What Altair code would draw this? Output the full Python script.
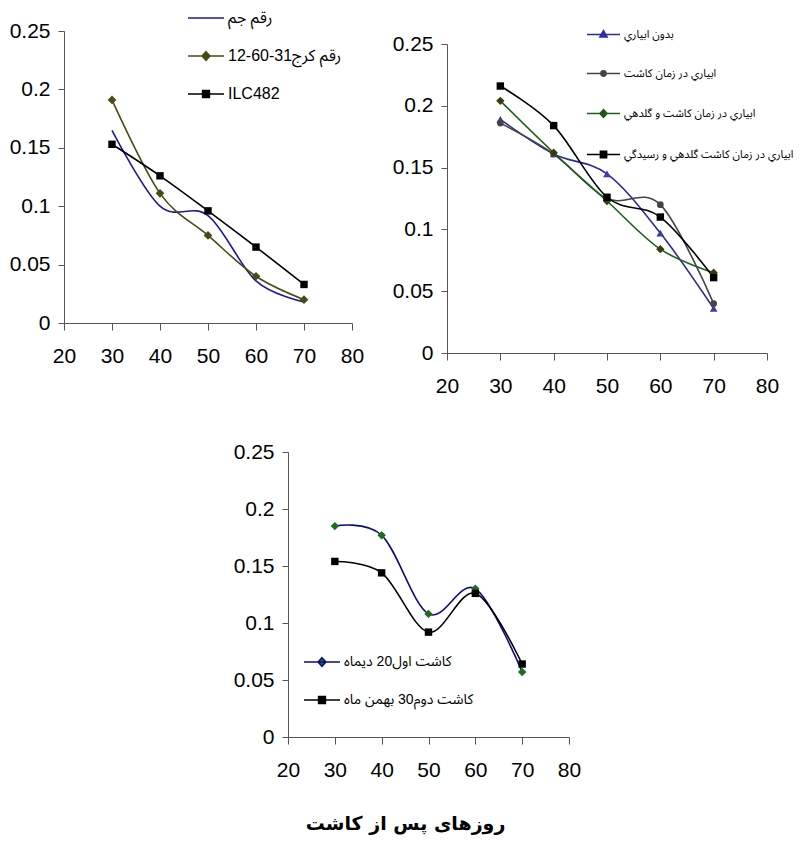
import json
import altair as alt
import pandas as pd

# ---------------- data ----------------
days = [30, 40, 50, 60, 70]
x_ticks = [20, 30, 40, 50, 60, 70, 80]
y_ticks = [0, 0.05, 0.1, 0.15, 0.2, 0.25]

# panel 1 (cultivars)
p1_series = ["رقم جم", "12-60-31رقم كرج", "ILC482"]
p1_jam = [0.165, 0.100, 0.092, 0.036, 0.018]
p1_karaj = [0.191, 0.111, 0.075, 0.040, 0.020]
p1_ilc = [0.153, 0.126, 0.096, 0.065, 0.033]

# panel 2 (irrigation)
p2_series = ["بدون ابياري", "ابياري در زمان كاشت",
             "ابياري در زمان كاشت و گلدهي",
             "ابياري در زمان كاشت گلدهي و رسيدگي"]
p2_none = [0.189, 0.161, 0.145, 0.097, 0.036]
p2_sow = [0.186, 0.161, 0.125, 0.120, 0.040]
p2_sow_flower = [0.204, 0.162, 0.123, 0.084, 0.065]
p2_all = [0.216, 0.184, 0.126, 0.110, 0.061]

# panel 3 (sowing dates)
p3_series = ["كاشت اول20 ديماه", "كاشت دوم30 بهمن ماه"]
p3_first = [0.185, 0.177, 0.108, 0.130, 0.057]
p3_second = [0.154, 0.144, 0.092, 0.126, 0.064]

x_title = "روزهای پس از کاشت"

# ---------------- style ----------------
W, H = 789, 831
AX = "#555555"
NUM_FONT = "Liberation Sans Narrow, Arial Narrow, Liberation Sans, Arial, sans-serif"
AR_FONT = "Noto Sans Arabic, DejaVu Sans Condensed, DejaVu Sans, sans-serif"
TITLE_FONT = "DejaVu Sans, sans-serif"

LINE = "M-1,0L1,0"
DIAM = "M-1,0L1,0M0,-0.24L0.22,0L0,0.24L-0.22,0Z"
SQR = "M-1,0L1,0M-0.19,-0.19L0.19,-0.19L0.19,0.19L-0.19,0.19Z"
TRI = "M-1,0L1,0M0,-0.24L0.22,0.15L-0.22,0.15Z"
CIRC = "M-1,0L1,0M-0.16,0A0.16,0.16,0,1,1,0.16,0A0.16,0.16,0,1,1,-0.16,0Z"


def pick(series, items):
    expr = json.dumps(items[-1], ensure_ascii=False)
    for s, it in reversed(list(zip(series[:-1], items[:-1]))):
        expr = "(datum.value === %s ? %s : %s)" % (
            json.dumps(s, ensure_ascii=False), json.dumps(it, ensure_ascii=False), expr)
    return expr


def make_panel(series, values, line_colors, markers, legend_syms, legend_fills,
               xr, yr, lx, ly, lrow, lfont_size, lsym=1296, title=None):
    rows = []
    for s, vals in zip(series, values):
        for d, v in zip(days, vals):
            rows.append({"day": d, "value": v, "series": s})
    df = pd.DataFrame(rows)

    axis_x_kw = dict(
        values=x_ticks, orient="bottom", offset=yr[0] - H, grid=False,
        domainColor=AX, tickColor=AX, tickSize=7, domainWidth=1, tickWidth=1,
        labelFont=NUM_FONT, labelFontSize=21, labelColor="black",
        labelPadding=15, labelFlush=False, labelOverlap=False,
    )
    if title is not None:
        axis_x_kw.update(dict(
            titleFont=TITLE_FONT, titleFontSize=19, titleFontWeight="bold",
            titleColor="black", titleX=397, titleY=86,
            titleAlign="center", titleBaseline="middle",
        ))
    x = alt.X("day:Q",
              scale=alt.Scale(domain=[20, 80], range=xr, nice=False, zero=False),
              axis=alt.Axis(**axis_x_kw), title=title)
    y = alt.Y("value:Q",
              scale=alt.Scale(domain=[0, 0.25], range=yr, nice=False, zero=False),
              axis=alt.Axis(values=y_ticks, orient="left", offset=-xr[0],
                            format="~g", grid=False, domainColor=AX, tickColor=AX,
                            tickSize=6, domainWidth=1, tickWidth=1,
                            labelFont=NUM_FONT, labelFontSize=21,
                            labelColor="black", labelPadding=8,
                            labelFlush=False, labelOverlap=False),
              title=None)

    legend = alt.Legend(
        orient="none", legendX=lx, legendY=ly, title=None, direction="vertical",
        symbolSize=lsym, symbolStrokeWidth=1.5,
        symbolType=alt.ExprRef(expr=pick(series, legend_syms)),
        symbolFillColor=alt.ExprRef(expr=pick(series, legend_fills)),
        symbolStrokeColor=alt.ExprRef(expr=pick(series, line_colors)),
        symbolOpacity=1,
        labelFont=NUM_FONT + ", " + AR_FONT,
        labelFontSize=lfont_size, labelColor="black", labelOffset=3,
        rowPadding=lrow, labelLimit=400,
    )

    layers = [alt.Chart(df).mark_line(interpolate="cardinal", strokeWidth=1.6).encode(
        x=x, y=y,
        color=alt.Color("series:N", scale=alt.Scale(domain=series, range=line_colors),
                        legend=legend),
    )]
    for s, mk in zip(series, markers):
        if mk is None:
            continue
        shape, fill, size = mk
        layers.append(
            alt.Chart(df).transform_filter(alt.datum.series == s)
            .mark_point(filled=True, opacity=1, shape=shape, fill=fill,
                        size=size, strokeWidth=0)
            .encode(x=x, y=y)
        )
    return alt.layer(*layers)


p1 = make_panel(
    p1_series, [p1_jam, p1_karaj, p1_ilc],
    ["#1a1a9a", "#4a4a14", "#000000"],
    [None, ("diamond", "#4a4a14", 75), ("square", "#000000", 55)],
    [LINE, DIAM, SQR], ["#1a1a9a", "#4a4a14", "#000000"],
    [56, 344], [315, 23], 179, -9, 11, 16,
)

p2 = make_panel(
    p2_series, [p2_none, p2_sow, p2_sow_flower, p2_all],
    ["#2b2b99", "#444444", "#1e5e1e", "#000000"],
    [("triangle-up", "#3a3aa8", 60), ("circle", "#444444", 45),
     ("diamond", "#3a3a10", 70), ("square", "#000000", 55)],
    [TRI, CIRC, DIAM, SQR], ["#3a3aa8", "#444444", "#3a3a10", "#000000"],
    [439, 759], [345, 36], 578, 9, 16, 11, lsym=1089,
)

p3 = make_panel(
    p3_series, [p3_first, p3_second],
    ["#0a0a88", "#000000"],
    [("diamond", "#1e6b1e", 70), ("square", "#000000", 55)],
    [DIAM, SQR], ["#1e6b1e", "#000000"],
    [280, 561], [729, 444], 295, 635, 11, 14,
    title=x_title,
)

chart = alt.layer(p1, p2, p3).resolve_scale(
    x="independent", y="independent", color="independent",
).resolve_axis(x="independent", y="independent").resolve_legend(
    color="independent"
).properties(
    width=W, height=H, padding=0, autosize="none"
).configure_view(stroke="transparent")

chart.save("out.html", embed_options={"renderer": "svg", "actions": False})
